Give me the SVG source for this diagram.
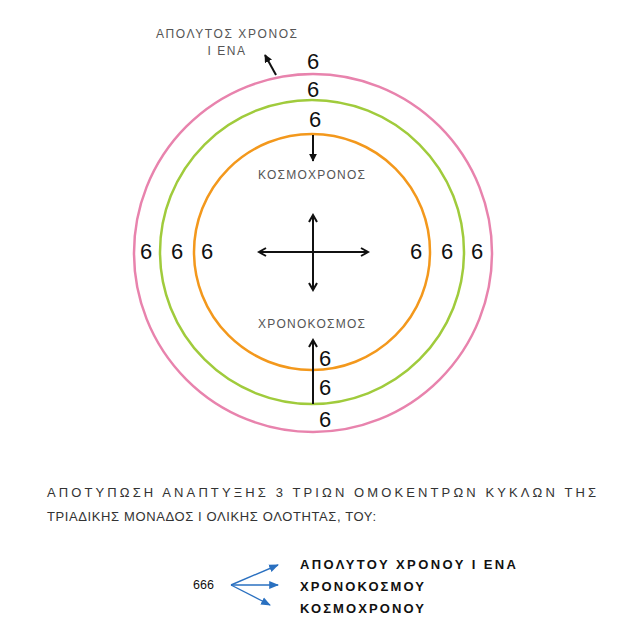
<svg xmlns="http://www.w3.org/2000/svg" width="640" height="626" viewBox="0 0 640 626">
<defs>
<style>
.six{font-family:"Liberation Sans","DejaVu Sans",sans-serif;font-size:22px;fill:#111;text-anchor:middle}
.lab{font-family:"Liberation Sans","DejaVu Sans",sans-serif;font-size:12px;fill:#555}
.par{font-family:"Liberation Sans","DejaVu Sans",sans-serif;font-size:13px;fill:#333}
.bold{font-family:"Liberation Sans","DejaVu Sans",sans-serif;font-size:13px;font-weight:bold;fill:#111}
.ln{stroke:#111;stroke-width:2;fill:none}
.bl{stroke:#2a70c0;stroke-width:1.4;fill:none}
</style>
<marker id="ah" viewBox="0 0 10 10" refX="8" refY="5" markerWidth="5" markerHeight="5" orient="auto-start-reverse">
<path d="M1,1 L8,5 L1,9" fill="none" stroke="#111" stroke-width="2"/>
</marker>
<marker id="ahs" viewBox="0 0 10 10" refX="9" refY="5" markerWidth="4" markerHeight="4" orient="auto">
<path d="M0,0 L10,5 L0,10 z" fill="#111"/>
</marker>
<marker id="bh" viewBox="0 0 10 10" refX="9" refY="5" markerWidth="7" markerHeight="7" orient="auto">
<path d="M0,1 L10,5 L0,9 z" fill="#2a70c0"/>
</marker>
</defs>
<rect width="640" height="626" fill="#fff"/>
<g id="circles">
<circle id="pink" cx="313" cy="253" r="179" fill="none" stroke="#e883ad" stroke-width="2.5"/>
<circle id="green" cx="312" cy="252" r="152" fill="none" stroke="#a0cb3c" stroke-width="2.5"/>
<circle id="orange" cx="312" cy="252" r="118" fill="none" stroke="#f3981c" stroke-width="2.5"/>
</g>
<g id="sixes">
<text class="six" x="313" y="69">6</text>
<text class="six" x="313" y="97">6</text>
<text class="six" x="315" y="127">6</text>
<text class="six" x="146" y="259">6</text>
<text class="six" x="177" y="259">6</text>
<text class="six" x="207" y="259">6</text>
<text class="six" x="416" y="259">6</text>
<text class="six" x="447" y="259">6</text>
<text class="six" x="477" y="259">6</text>
<text class="six" x="325" y="366">6</text>
<text class="six" x="325" y="395">6</text>
<text class="six" x="325" y="427">6</text>
</g>
<g id="labels">
<text class="lab" x="156" y="38" textLength="141" lengthAdjust="spacing">ΑΠΟΛΥΤΟΣ ΧΡΟΝΟΣ</text>
<text class="lab" x="227" y="55" text-anchor="middle" letter-spacing="1.5">Ι ΕΝΑ</text>
<text class="lab" x="258" y="179" textLength="107" lengthAdjust="spacing">ΚΟΣΜΟΧΡΟΝΟΣ</text>
<text class="lab" x="258" y="328" textLength="107" lengthAdjust="spacing">ΧΡΟΝΟΚΟΣΜΟΣ</text>
</g>
<g id="connectors">
<line class="ln" x1="276" y1="75" x2="265" y2="55" marker-end="url(#ahs)" stroke-width="1.8"/>
<line class="ln" x1="313" y1="135" x2="313" y2="161" marker-end="url(#ahs)" stroke-width="1.6"/>
<line class="ln" x1="313" y1="404" x2="313" y2="340" marker-end="url(#ah)" stroke-width="1.6"/>
<line class="ln" x1="259" y1="252" x2="368" y2="252" marker-start="url(#ah)" marker-end="url(#ah)" stroke-width="1.6"/>
<line class="ln" x1="313" y1="215" x2="313" y2="290" marker-start="url(#ah)" marker-end="url(#ah)" stroke-width="1.6"/>
<line class="bl" x1="231" y1="585" x2="278" y2="565" marker-end="url(#bh)"/>
<line class="bl" x1="231" y1="585" x2="278" y2="585" marker-end="url(#bh)"/>
<line class="bl" x1="231" y1="585" x2="270" y2="605" marker-end="url(#bh)"/>
</g>
<g id="paragraph">
<text class="par" x="47" y="497" textLength="549" lengthAdjust="spacing">ΑΠΟΤΥΠΩΣΗ  ΑΝΑΠΤΥΞΗΣ  3  ΤΡΙΩΝ  ΟΜΟΚΕΝΤΡΩΝ  ΚΥΚΛΩΝ  ΤΗΣ</text>
<text class="par" x="47" y="521" textLength="329" lengthAdjust="spacing">ΤΡΙΑΔΙΚΗΣ ΜΟΝΑΔΟΣ Ι ΟΛΙΚΗΣ ΟΛΟΤΗΤΑΣ, ΤΟΥ:</text>
</g>
<g id="legend">
<text x="193" y="589" style="font-family:'Liberation Sans',sans-serif;font-size:12.5px;fill:#111">666</text>
<text class="bold" x="300" y="569" textLength="216" lengthAdjust="spacing">ΑΠΟΛΥΤΟΥ ΧΡΟΝΟΥ Ι ΕΝΑ</text>
<text class="bold" x="300" y="591" textLength="124" lengthAdjust="spacing">ΧΡΟΝΟΚΟΣΜΟΥ</text>
<text class="bold" x="300" y="613" textLength="124" lengthAdjust="spacing">ΚΟΣΜΟΧΡΟΝΟΥ</text>
</g>
</svg>
